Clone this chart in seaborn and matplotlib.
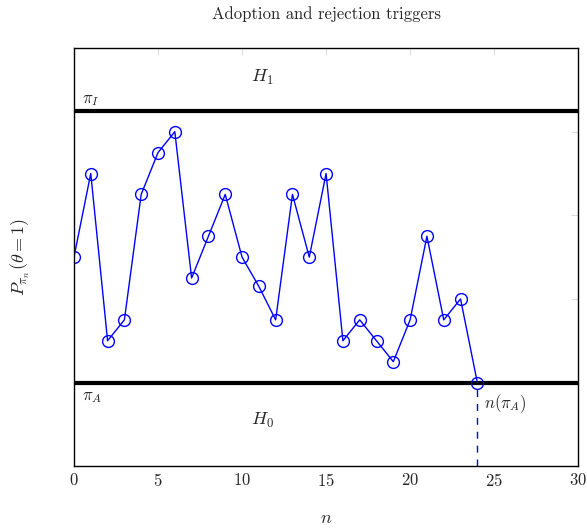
import matplotlib
matplotlib.use('Agg')
import matplotlib.pyplot as plt
import seaborn as sns
import pandas as pd

sns.set_style('white')
plt.rcParams['font.family'] = 'serif'
plt.rcParams['font.serif'] = ['cmr10', 'DejaVu Serif']
plt.rcParams['mathtext.fontset'] = 'cm'
plt.rcParams['axes.formatter.use_mathtext'] = True

# posterior trajectory
n_steps = list(range(25))
posterior = [0.50, 0.70, 0.30, 0.35, 0.65, 0.75, 0.80, 0.45, 0.55, 0.65,
             0.50, 0.43, 0.35, 0.65, 0.50, 0.70, 0.30, 0.35, 0.30, 0.25,
             0.35, 0.55, 0.35, 0.40, 0.20]
pi_I = 0.85
pi_A = 0.20
n_stop = 24

df = pd.DataFrame({'n': n_steps, 'p': posterior})

fig = plt.figure(figsize=(5.87, 5.28), dpi=100)
ax = fig.add_axes([0.126, 0.117, 0.859, 0.792])

ax.axhline(pi_I, color='black', lw=3)
ax.axhline(pi_A, color='black', lw=3)
ax.plot([n_stop, n_stop], [0, pi_A], color='blue', lw=1, ls=(0, (5, 5)))

sns.lineplot(data=df, x='n', y='p', ax=ax, color='blue', lw=1,
             marker='o', markersize=8.5, markerfacecolor='none',
             markeredgecolor='blue', markeredgewidth=1)

ax.text(11.2, 0.93, r'$H_1$', fontsize=13, ha='center', va='center')
ax.text(11.2, 0.11, r'$H_0$', fontsize=13, ha='center', va='center')
ax.text(0.5, 0.875, r'$\pi_I$', fontsize=12, ha='left', va='center')
ax.text(0.5, 0.165, r'$\pi_A$', fontsize=12, ha='left', va='center')
ax.text(24.4, 0.15, r'$n(\pi_A)$', fontsize=12, ha='left', va='center')

ax.set_xlim(0, 30)
ax.set_ylim(0, 1)
ax.set_xticks([0, 5, 10, 15, 20, 25, 30])
ax.set_yticks([0.2, 0.4, 0.6, 0.8])
ax.set_yticklabels([])
ax.tick_params(axis='both', direction='in', length=5, color='#dddddd',
               top=True, right=True, labelsize=12, pad=4)
for s in ax.spines.values():
    s.set_color('black')
    s.set_linewidth(1)

ax.set_xlabel(r'$n$', fontsize=13, labelpad=16)
ax.set_ylabel(r'$P_{\pi_n}(\theta = 1)$', fontsize=13, labelpad=26)
ax.set_title('Adoption and rejection triggers', fontsize=12, pad=21)

fig.savefig('out.png', dpi=100)
